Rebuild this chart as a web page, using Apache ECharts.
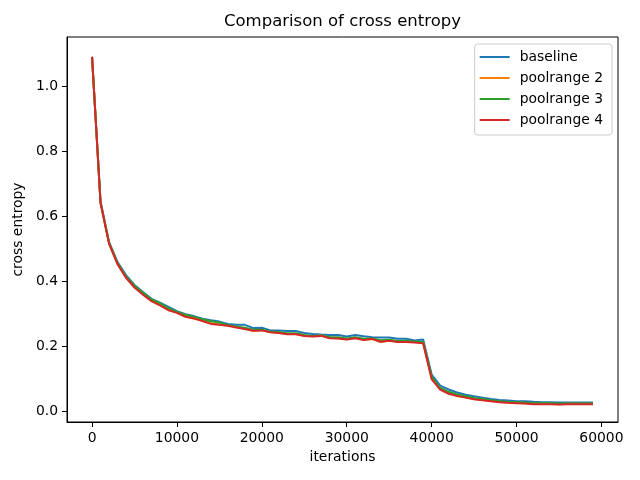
<!DOCTYPE html>
<html>
<head>
<meta charset="utf-8">
<script src="https://cdn.jsdelivr.net/npm/echarts@6/dist/echarts.min.js"></script>
<style>html,body{margin:0;padding:0;background:#fff}#c{width:640px;height:480px}</style>
</head>
<body>
<div id="c"></div>
<script>
const iterations = [];
for (let i = 0; i < 60; i++) iterations.push(i * 1000);

const baseline = [1.09,0.645,0.52,0.458,0.418,0.388,0.366,0.345,0.333,0.32,
0.307,0.298,0.292,0.284,0.279,0.275,0.268,0.265,0.265,0.255,
0.256,0.248,0.248,0.246,0.246,0.24,0.237,0.235,0.234,0.234,
0.229,0.234,0.23,0.227,0.226,0.226,0.222,0.222,0.217,0.22,
0.112,0.078,0.066,0.057,0.05,0.045,0.041,0.037,0.034,0.032,
0.03,0.03,0.028,0.027,0.027,0.026,0.026,0.026,0.026,0.026];

const poolrange2 = [1.09,0.64,0.516,0.453,0.411,0.381,0.36,0.339,0.327,0.311,
0.303,0.291,0.284,0.278,0.27,0.266,0.263,0.258,0.253,0.246,
0.249,0.243,0.241,0.237,0.237,0.232,0.23,0.232,0.225,0.224,
0.221,0.225,0.219,0.221,0.212,0.217,0.213,0.213,0.212,0.209,
0.1,0.068,0.055,0.048,0.042,0.037,0.034,0.031,0.028,0.026,
0.025,0.024,0.022,0.022,0.022,0.021,0.022,0.022,0.022,0.022];

const poolrange3 = [1.09,0.642,0.518,0.455,0.414,0.385,0.364,0.343,0.332,0.316,
0.305,0.296,0.289,0.282,0.276,0.272,0.264,0.26,0.256,0.25,
0.25,0.244,0.243,0.239,0.239,0.234,0.231,0.232,0.228,0.227,
0.223,0.227,0.222,0.223,0.218,0.219,0.215,0.216,0.214,0.212,
0.105,0.071,0.059,0.051,0.045,0.04,0.037,0.033,0.03,0.028,
0.027,0.026,0.024,0.024,0.024,0.023,0.023,0.023,0.023,0.023];

const poolrange4 = [1.09,0.64,0.515,0.452,0.41,0.38,0.358,0.338,0.325,0.31,
0.302,0.29,0.285,0.277,0.268,0.265,0.262,0.257,0.252,0.247,
0.248,0.242,0.24,0.236,0.236,0.231,0.229,0.231,0.224,0.223,
0.22,0.224,0.218,0.222,0.213,0.216,0.212,0.212,0.211,0.208,
0.098,0.066,0.053,0.046,0.041,0.036,0.033,0.03,0.027,0.025,
0.024,0.023,0.021,0.021,0.021,0.02,0.021,0.021,0.021,0.021];

const xTicks = [0,10000,20000,30000,40000,50000,60000];
const yTicks = [0,0.2,0.4,0.6,0.8,1.0];
const seriesNames = ['baseline','poolrange 2','poolrange 3','poolrange 4'];
const seriesData = [baseline, poolrange2, poolrange3, poolrange4];
const colors = ['#1f77b4','#ff7f0e','#2ca02c','#d62728'];

const FONT = 'DejaVu Sans';
const chart = echarts.init(document.getElementById('c'), null, {renderer:'canvas'});
chart.setOption({
  animation: false,
  textStyle: {fontFamily: FONT},
  graphic: [{
    type: 'text', x: 342.5, y: 22,
    style: {text: 'Comparison of cross entropy', fontFamily: FONT, fontSize: 16.5,
      fill: '#000', textAlign: 'center', textVerticalAlign: 'middle'}
  }],
  grid: {left: 67, right: 22, top: 37, bottom: 58, show: true,
    borderColor: '#000', borderWidth: 1, backgroundColor: '#fff'},
  legend: {
    orient: 'vertical', right: 28, top: 44,
    data: seriesNames.map(n => ({name: n, icon: 'rect'})),
    itemWidth: 30, itemHeight: 2, itemGap: 7,
    padding: [6, 9, 8, 5],
    backgroundColor: 'rgba(255,255,255,0.8)',
    borderColor: '#cccccc', borderWidth: 1, borderRadius: 3,
    textStyle: {fontFamily: FONT, fontSize: 13.9, color: '#000', padding: [0,0,0,5]}
  },
  xAxis: {
    type: 'value', min: -2950, max: 61950,
    name: 'iterations', nameLocation: 'middle', nameGap: 28,
    nameTextStyle: {fontFamily: FONT, fontSize: 13.9, color: '#000'},
    axisLine: {show: true, onZero: false, lineStyle: {color: '#000', width: 1}},
    axisTick: {show: true, inside: false, length: 5, customValues: xTicks, lineStyle: {color: '#000'}},
    axisLabel: {customValues: xTicks, margin: 9, fontFamily: FONT, fontSize: 13.9, color: '#000',
      formatter: v => String(v)},
    splitLine: {show: false}
  },
  yAxis: {
    type: 'value', min: -0.034, max: 1.151,
    name: 'cross entropy', nameLocation: 'middle', nameGap: 36, nameRotate: 90,
    nameTextStyle: {fontFamily: FONT, fontSize: 13.9, color: '#000'},
    axisLine: {show: true, onZero: false, lineStyle: {color: '#000', width: 1}},
    axisTick: {show: true, inside: false, length: 5, customValues: yTicks, lineStyle: {color: '#000'}},
    axisLabel: {customValues: yTicks, margin: 9, fontFamily: FONT, fontSize: 13.9, color: '#000',
      formatter: v => v.toFixed(1)},
    splitLine: {show: false}
  },
  series: seriesNames.map((n, k) => ({
    name: n, type: 'line', showSymbol: false, symbol: 'none',
    data: iterations.map((it, i) => [it, seriesData[k][i]]),
    lineStyle: {color: colors[k], width: 2},
    itemStyle: {color: colors[k]}
  }))
});
</script>
</body>
</html>
